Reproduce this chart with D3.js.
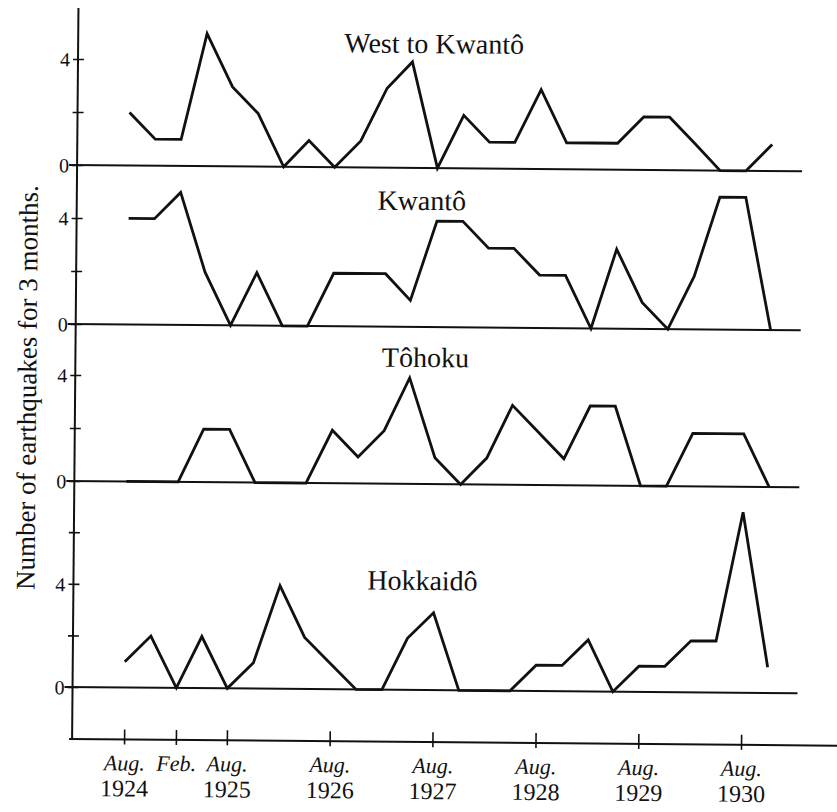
<!DOCTYPE html>
<html>
<head>
<meta charset="utf-8">
<script src="https://cdnjs.cloudflare.com/ajax/libs/d3/7.8.5/d3.min.js"></script>
<style>
  body { margin: 0; background: #fff; }
</style>
</head>
<body>
<svg width="837" height="812"></svg>
<script>

// 3-month periods, labelled by their first month
var quarters = ["1924-08", "1924-11", "1925-02", "1925-05", "1925-08", "1925-11",
                "1926-02", "1926-05", "1926-08", "1926-11", "1927-02", "1927-05",
                "1927-08", "1927-11", "1928-02", "1928-05", "1928-08", "1928-11",
                "1929-02", "1929-05", "1929-08", "1929-11", "1930-02", "1930-05",
                "1930-08", "1930-11"];

var regions = ["West to Kwantô", "Kwantô", "Tôhoku", "Hokkaidô"];

// number of earthquakes per 3 months
var westToKwanto = [2, 1, 1, 5, 3, 2, 0, 1, 0, 1, 3, 4, 0, 2, 1, 1, 3, 1, 1, 1, 2, 2, 1, 0, 0, 1];
var kwanto       = [4, 4, 5, 2, 0, 2, 0, 0, 2, 2, 2, 1, 4, 4, 3, 3, 2, 2, 0, 3, 1, 0, 2, 5, 5, 0];
var tohoku       = [0, 0, 0, 2, 2, 0, 0, 0, 2, 1, 2, 4, 1, 0, 1, 3, 2, 1, 3, 3, 0, 0, 2, 2, 2, 0];
var hokkaido     = [1, 2, 0, 2, 0, 1, 4, 2, 1, 0, 0, 2, 3, 0, 0, 0, 1, 1, 2, 0, 1, 1, 2, 2, 7, 1];

var yTicks = [0, 2, 4];
var yTicksHokkaido = [0, 2, 4, 6];
var yLabels = [0, 4];

var xTickDates  = ["1924-08", "1925-02", "1925-08", "1926-08", "1927-08", "1928-08", "1929-08", "1930-08"];
var xTickMonths = ["Aug.", "Feb.", "Aug.", "Aug.", "Aug.", "Aug.", "Aug.", "Aug."];
var xTickYears  = ["1924", "", "1925", "1926", "1927", "1928", "1929", "1930"];

var series = [westToKwanto, kwanto, tohoku, hokkaido];

var parse = d3.timeParse("%Y-%m");
var serif = "'Liberation Serif'";
var ink = "#111";

var svg = d3.select("svg");

// the printed figure is slightly tilted
var g = svg.append("g")
    .attr("transform", "rotate(0.5,418,406)");

var axisX = 75, axisTop = 11, axisBottom = 742;

var x = d3.scaleTime()
    .domain([parse("1924-08"), parse("1930-08")])
    .range([127, 744]);

// panel layout: zero line, pixels per earthquake, title position
var panels = [
  {zero: 168, unit: 26.5, tx: 431, ty: 53,  ticks: yTicks},
  {zero: 327, unit: 26.5, tx: 420, ty: 210, ticks: yTicks},
  {zero: 484, unit: 26.5, tx: 425, ty: 367, ticks: yTicks},
  {zero: 690, unit: 25.8, tx: 424, ty: 590, ticks: yTicksHokkaido}
];

panels.forEach(function(p, k) {
  var y = d3.scaleLinear()
      .domain([0, 4])
      .range([p.zero, p.zero - 4 * p.unit]);

  // zero line
  g.append("line")
      .attr("x1", axisX - 8)
      .attr("x2", 800)
      .attr("y1", y(0))
      .attr("y2", y(0))
      .attr("stroke", ink)
      .attr("stroke-width", 2);

  // ticks on the left axis
  var ax = g.append("g")
      .attr("transform", "translate(" + axisX + ",0)")
      .call(d3.axisLeft(y)
        .tickValues(p.ticks)
        .tickFormat(function(d) { return yLabels.indexOf(d) >= 0 ? d : ""; }));

  ax.attr("font-family", null).attr("font-size", null);
  ax.select(".domain").remove();
  ax.selectAll(".tick line")
      .attr("x1", 6)
      .attr("x2", -5)
      .attr("stroke", ink)
      .attr("stroke-width", 1.6);
  ax.selectAll(".tick text")
      .attr("x", -8)
      .attr("dy", "0.35em")
      .attr("fill", ink)
      .style("font-family", serif)
      .style("font-size", "20px");

  var line = d3.line()
      .x(function(d, i) { return x(parse(quarters[i])); })
      .y(function(d) { return y(d); });

  g.append("path")
      .datum(series[k])
      .attr("d", line)
      .attr("fill", "none")
      .attr("stroke", ink)
      .attr("stroke-width", 2.8)
      .attr("stroke-linejoin", "miter")
      .attr("stroke-miterlimit", 3);

  g.append("text")
      .attr("x", p.tx)
      .attr("y", p.ty)
      .attr("text-anchor", "middle")
      .attr("fill", ink)
      .style("font-family", serif)
      .style("font-size", "28px")
      .text(regions[k]);
});

// left axis line
g.append("line")
    .attr("x1", axisX).attr("x2", axisX)
    .attr("y1", axisTop).attr("y2", axisBottom)
    .attr("stroke", ink)
    .attr("stroke-width", 2);

// bottom axis
g.append("line")
    .attr("x1", axisX - 3).attr("x2", 845)
    .attr("y1", axisBottom).attr("y2", axisBottom)
    .attr("stroke", ink)
    .attr("stroke-width", 2);

var xa = g.append("g")
    .attr("transform", "translate(0," + axisBottom + ")")
    .call(d3.axisBottom(x)
      .tickValues(xTickDates.map(parse))
      .tickFormat(""));

xa.attr("font-family", null).attr("font-size", null);
xa.select(".domain").remove();
xa.selectAll(".tick line")
    .attr("y1", -10)
    .attr("y2", 5)
    .attr("stroke", ink)
    .attr("stroke-width", 1.6);

xa.selectAll(".tick text").remove();

// month (italic) over year
xa.selectAll(".tick")
  .append("text")
    .attr("y", 31)
    .attr("text-anchor", "middle")
    .attr("fill", ink)
    .style("font-family", serif)
    .style("font-size", "22px")
    .style("font-style", "italic")
    .text(function(d, i) { return xTickMonths[i]; });

xa.selectAll(".tick")
  .append("text")
    .attr("y", 57)
    .attr("text-anchor", "middle")
    .attr("fill", ink)
    .style("font-family", serif)
    .style("font-size", "24px")
    .text(function(d, i) { return xTickYears[i]; });

// y axis title
g.append("text")
    .attr("transform", "translate(36,391) rotate(-90)")
    .attr("text-anchor", "middle")
    .attr("fill", ink)
    .style("font-family", serif)
    .style("font-size", "27px")
    .text("Number of earthquakes for 3 months.");

</script>
</body>
</html>
